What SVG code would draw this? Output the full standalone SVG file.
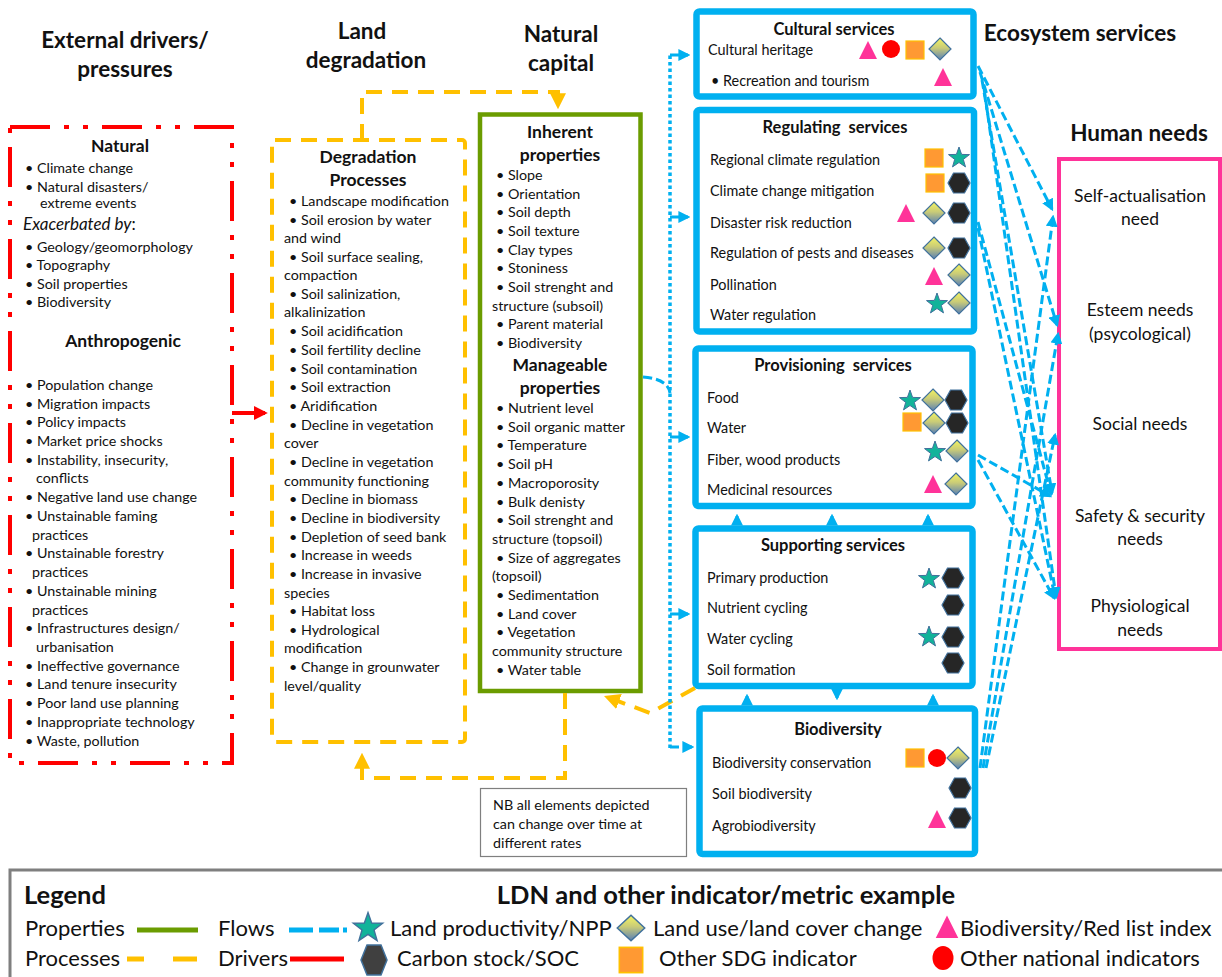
<svg xmlns="http://www.w3.org/2000/svg" xmlns:xlink="http://www.w3.org/1999/xlink" width="1222" height="977" viewBox="0 0 1222 977">
<style>
text{font-family:Lato,"Liberation Sans",sans-serif;fill:#111}
.h{font-size:22.5px;font-weight:bold;text-anchor:middle}
.tb{font-size:17.5px;font-weight:bold;text-anchor:middle}
.l{font-size:14.3px}
.s{font-size:14.4px}
.st{font-size:16.5px;font-weight:bold;text-anchor:middle;white-space:pre}
.hn{font-size:17.5px;text-anchor:middle}
.lg{font-size:22px}
.lgb{font-size:25.5px;font-weight:bold}
.blue{fill:none;stroke:#00B0F0;stroke-width:3;stroke-dasharray:9 4}
.yel{fill:none;stroke:#FFC000;stroke-width:4;stroke-dasharray:16 10}
.svc{fill:#fff;stroke:#00B0F0;stroke-width:6.5}
</style>
<defs>
<linearGradient id="dg" x1="0" y1="0" x2="0" y2="1">
<stop offset="0" stop-color="#F4F460"/><stop offset="0.45" stop-color="#C9CB78"/><stop offset="1" stop-color="#5A80B4"/>
</linearGradient>
<polygon id="star" points="0,-11 2.6,-3.6 10.5,-3.4 4.3,1.4 6.5,8.9 0,4.5 -6.5,8.9 -4.3,1.4 -10.5,-3.4 -2.6,-3.6" fill="#12B39A" stroke="#41719C" stroke-width="1"/>
<polygon id="hex" points="-11,0 -5.5,-10 5.5,-10 11,0 5.5,10 -5.5,10" fill="#262626" stroke="#41719C" stroke-width="1.2"/>
<polygon id="dia" points="0,-11 11,0 0,11 -11,0" fill="url(#dg)" stroke="#41719C" stroke-width="1.2"/>
<polygon id="tri" points="0,-10 9,8 -9,8" fill="#FF3399"/>
<rect id="sq" x="-9" y="-9" width="18" height="18" fill="#FF9933" stroke="#FFC000" stroke-width="1.2"/>
<circle id="cir" r="9" fill="#FF0000"/>
<marker id="ab" viewBox="0 0 10 10" refX="8" refY="5" markerWidth="4" markerHeight="4" orient="auto" markerUnits="strokeWidth"><path d="M0,0 L10,5 L0,10 z" fill="#00B0F0"/></marker>
<marker id="ay" viewBox="0 0 10 10" refX="8" refY="5" markerWidth="4" markerHeight="4" orient="auto" markerUnits="strokeWidth"><path d="M0,0 L10,5 L0,10 z" fill="#FFC000"/></marker>
<marker id="ar" viewBox="0 0 10 10" refX="8" refY="5" markerWidth="3.5" markerHeight="3.5" orient="auto" markerUnits="strokeWidth"><path d="M0,0 L10,5 L0,10 z" fill="#FF0000"/></marker>
</defs>
<rect width="1222" height="977" fill="#fff"/>

<!-- headers -->
<g id="headers">
<text class="h" x="125" y="48">External drivers/</text>
<text class="h" x="125" y="77">pressures</text>
<text class="h" x="362" y="39">Land</text>
<text class="h" x="366" y="68">degradation</text>
<text class="h" x="561" y="42">Natural</text>
<text class="h" x="561" y="71">capital</text>
<text class="h" x="1080" y="41">Ecosystem services</text>
<text class="h" x="1139" y="141">Human needs</text>
</g>

<!-- drivers -->
<g id="drivers">
<rect x="10" y="127" width="222" height="636" fill="none" stroke="#FF0000" stroke-width="4" stroke-dasharray="40 14 5 14 5 14"/>
<text class="tb" x="120" y="152">Natural</text>
<text class="l" x="25" y="173">• Climate change</text>
<text class="l" x="25" y="192">•  Natural disasters/</text>
<text class="l" x="40" y="208">extreme events</text>
<text x="23" y="230" style="font-size:17px;font-style:italic">Exacerbated by<tspan font-style="normal">:</tspan></text>
<text class="l" x="25" y="252">•  Geology/geomorphology</text>
<text class="l" x="25" y="270">• Topography</text>
<text class="l" x="25" y="289">• Soil properties</text>
<text class="l" x="25" y="307">• Biodiversity</text>
<text class="tb" x="123" y="347">Anthropogenic</text>
<text class="l" x="25" y="390">•  Population change</text>
<text class="l" x="25" y="409">• Migration impacts</text>
<text class="l" x="25" y="427">• Policy impacts</text>
<text class="l" x="25" y="446">• Market price shocks</text>
<text class="l" x="25" y="465">• Instability, insecurity,</text>
<text class="l" x="36" y="483">conflicts</text>
<text class="l" x="25" y="502">• Negative land use change</text>
<text class="l" x="25" y="521">• Unstainable faming</text>
<text class="l" x="32" y="540">practices</text>
<text class="l" x="25" y="558">• Unstainable forestry</text>
<text class="l" x="32" y="577">practices</text>
<text class="l" x="25" y="596">• Unstainable mining</text>
<text class="l" x="32" y="615">practices</text>
<text class="l" x="25" y="633">• Infrastructures design/</text>
<text class="l" x="36" y="652">urbanisation</text>
<text class="l" x="25" y="671">• Ineffective governance</text>
<text class="l" x="25" y="689">• Land tenure insecurity</text>
<text class="l" x="25" y="708">• Poor land use planning</text>
<text class="l" x="25" y="727">• Inappropriate technology</text>
<text class="l" x="25" y="746">• Waste, pollution</text>
</g>

<!-- degradation -->
<g id="degradation">
<rect x="272" y="140" width="193" height="602" rx="3" fill="none" stroke="#FFC000" stroke-width="4" stroke-dasharray="16 10"/>
<text class="tb" x="368" y="163">Degradation</text>
<text class="tb" x="368" y="186">Processes</text>
<text class="l" x="289" y="206">• Landscape modification</text>
<text class="l" x="289" y="225">•  Soil erosion by water</text>
<text class="l" x="284" y="243">and wind</text>
<text class="l" x="289" y="262">•  Soil surface sealing,</text>
<text class="l" x="284" y="280">compaction</text>
<text class="l" x="289" y="299">• Soil salinization,</text>
<text class="l" x="284" y="317">alkalinization</text>
<text class="l" x="289" y="336">• Soil acidification</text>
<text class="l" x="289" y="355">• Soil fertility decline</text>
<text class="l" x="289" y="374">•  Soil contamination</text>
<text class="l" x="289" y="392">• Soil extraction</text>
<text class="l" x="289" y="411">• Aridification</text>
<text class="l" x="289" y="430">• Decline in vegetation</text>
<text class="l" x="284" y="448">cover</text>
<text class="l" x="289" y="467">• Decline in vegetation</text>
<text class="l" x="284" y="486">community functioning</text>
<text class="l" x="289" y="504">• Decline in biomass</text>
<text class="l" x="289" y="523">• Decline in biodiversity</text>
<text class="l" x="289" y="542">• Depletion of seed bank</text>
<text class="l" x="289" y="560">• Increase in weeds</text>
<text class="l" x="289" y="579">• Increase in invasive</text>
<text class="l" x="284" y="598">species</text>
<text class="l" x="289" y="616">• Habitat loss</text>
<text class="l" x="289" y="635">• Hydrological</text>
<text class="l" x="284" y="653">modification</text>
<text class="l" x="289" y="672">• Change in grounwater</text>
<text class="l" x="284" y="691">level/quality</text>
</g>

<!-- natural capital -->
<g id="natural-capital">
<rect x="480" y="114.5" width="160.5" height="576.5" fill="#fff" stroke="#6B9C00" stroke-width="4.5"/>
<text class="tb" x="560" y="138">Inherent</text>
<text class="tb" x="560" y="161">properties</text>
<text class="l" x="496" y="180">• Slope</text>
<text class="l" x="496" y="199">•  Orientation</text>
<text class="l" x="496" y="217">•  Soil depth</text>
<text class="l" x="496" y="236">• Soil texture</text>
<text class="l" x="496" y="255">• Clay types</text>
<text class="l" x="496" y="273">• Stoniness</text>
<text class="l" x="496" y="292">•  Soil strenght and</text>
<text class="l" x="492" y="311">structure (subsoil)</text>
<text class="l" x="496" y="329">• Parent material</text>
<text class="l" x="496" y="348">• Biodiversity</text>
<text class="tb" x="560" y="371">Manageable</text>
<text class="tb" x="560" y="394">properties</text>
<text class="l" x="496" y="413">• Nutrient level</text>
<text class="l" x="496" y="432">• Soil organic matter</text>
<text class="l" x="496" y="450">• Temperature</text>
<text class="l" x="496" y="469">• Soil pH</text>
<text class="l" x="496" y="488">• Macroporosity</text>
<text class="l" x="496" y="507">• Bulk denisty</text>
<text class="l" x="496" y="525">• Soil strenght and</text>
<text class="l" x="492" y="544">structure (topsoil)</text>
<text class="l" x="496" y="563">• Size of aggregates</text>
<text class="l" x="492" y="581">(topsoil)</text>
<text class="l" x="496" y="600">• Sedimentation</text>
<text class="l" x="496" y="619">• Land cover</text>
<text class="l" x="496" y="637">• Vegetation</text>
<text class="l" x="492" y="656">community structure</text>
<text class="l" x="496" y="675">• Water table</text>
</g>

<!-- note -->
<g id="note">
<rect x="480.5" y="788.5" width="206" height="68" fill="#fff" stroke="#7F7F7F" stroke-width="1.2"/>
<text class="l" x="493" y="810">NB all elements depicted</text>
<text class="l" x="493" y="829">can change over time at</text>
<text class="l" x="493" y="848">different rates</text>
</g>

<!-- cultural -->
<g id="cultural">
<rect class="svc" x="696.5" y="11.5" width="277" height="85" rx="3"/>
<text class="st" x="834" y="35">Cultural services</text>
<text class="s" x="708" y="55">Cultural heritage</text>
<text class="s" x="711" y="86">• Recreation and tourism</text>
<use href="#tri" x="868" y="51"/><use href="#cir" x="891" y="49"/><use href="#sq" x="915" y="50"/><use href="#dia" x="940" y="49"/>
<use href="#tri" x="943" y="78"/>
</g>

<!-- regulating -->
<g id="regulating">
<rect class="svc" x="696.5" y="110" width="277.5" height="221.5" rx="3"/>
<text class="st" x="835" y="133">Regulating  services</text>
<text class="s" x="710" y="165">Regional climate regulation</text>
<text class="s" x="710" y="196">Climate change mitigation</text>
<text class="s" x="710" y="228">Disaster risk reduction</text>
<text class="s" x="710" y="258">Regulation of pests and diseases</text>
<text class="s" x="710" y="290">Pollination</text>
<text class="s" x="710" y="320">Water regulation</text>
<use href="#sq" x="934" y="158"/><use href="#star" x="959" y="158"/>
<use href="#sq" x="935" y="183"/><use href="#hex" x="959" y="183"/>
<use href="#tri" x="906" y="214"/><use href="#dia" x="934" y="213"/><use href="#hex" x="959" y="213"/>
<use href="#dia" x="934" y="248"/><use href="#hex" x="959" y="248"/>
<use href="#tri" x="934" y="277"/><use href="#dia" x="959" y="275"/>
<use href="#star" x="937" y="304"/><use href="#dia" x="959" y="303"/>
</g>

<!-- provisioning -->
<g id="provisioning">
<rect class="svc" x="695.5" y="348.5" width="277" height="157.5" rx="3"/>
<text class="st" x="833" y="371">Provisioning  services</text>
<text class="s" x="707" y="403">Food</text>
<text class="s" x="707" y="433">Water</text>
<text class="s" x="707" y="465">Fiber, wood products</text>
<text class="s" x="707" y="495">Medicinal resources</text>
<use href="#star" x="910" y="401"/><use href="#dia" x="933" y="400"/><use href="#hex" x="956" y="400"/>
<use href="#sq" x="912" y="422"/><use href="#dia" x="934" y="423"/><use href="#hex" x="957" y="423"/>
<use href="#star" x="935" y="452"/><use href="#dia" x="957" y="451"/>
<use href="#tri" x="933" y="485"/><use href="#dia" x="956" y="484"/>
</g>

<!-- supporting -->
<g id="supporting">
<rect class="svc" x="695.5" y="528.5" width="277" height="157.5" rx="3"/>
<text class="st" x="833" y="551">Supporting services</text>
<text class="s" x="707" y="583">Primary production</text>
<text class="s" x="707" y="613">Nutrient cycling</text>
<text class="s" x="707" y="644">Water cycling</text>
<text class="s" x="707" y="675">Soil formation</text>
<use href="#star" x="929" y="579"/><use href="#hex" x="953" y="578"/>
<use href="#hex" x="953" y="605"/>
<use href="#star" x="929" y="637"/><use href="#hex" x="953" y="637"/>
<use href="#hex" x="953" y="663"/>
</g>

<!-- biodiversity -->
<g id="biodiversity">
<rect class="svc" x="699.5" y="708.5" width="275.5" height="145.5" rx="3"/>
<text class="st" x="838" y="735">Biodiversity</text>
<text class="s" x="712" y="768">Biodiversity conservation</text>
<text class="s" x="712" y="799">Soil biodiversity</text>
<text class="s" x="712" y="831">Agrobiodiversity</text>
<use href="#sq" x="915" y="758"/><use href="#cir" x="937" y="758"/><use href="#dia" x="958" y="758"/>
<use href="#hex" x="960" y="788"/>
<use href="#tri" x="937" y="820"/><use href="#hex" x="960" y="818"/>
</g>

<!-- human needs -->
<g id="human-needs">
<rect x="1059" y="159" width="161" height="490" fill="#fff" stroke="#FF3399" stroke-width="4"/>
<text class="hn" x="1140" y="202">Self-actualisation</text>
<text class="hn" x="1140" y="225">need</text>
<text class="hn" x="1140" y="316">Esteem needs</text>
<text class="hn" x="1140" y="340">(psycological)</text>
<text class="hn" x="1140" y="430">Social needs</text>
<text class="hn" x="1140" y="522">Safety &amp; security</text>
<text class="hn" x="1140" y="545">needs</text>
<text class="hn" x="1140" y="612">Physiological</text>
<text class="hn" x="1140" y="636">needs</text>
</g>

<!-- connectors -->
<g id="connectors">
<path d="M232,413 L265,413" fill="none" stroke="#FF0000" stroke-width="4" marker-end="url(#ar)"/>
<path class="yel" d="M362,140 L362,92 L558,92 L558,106" marker-end="url(#ay)"/>
<path class="yel" d="M565,693 L565,778 L362,778 L362,756" marker-end="url(#ay)"/>
<path class="yel" d="M695,688 L650,713 L607,697" marker-end="url(#ay)"/>
<path d="M670,748 L670,55" fill="none" stroke="#00B0F0" stroke-width="3.5" stroke-dasharray="3.5 3"/>
<path class="blue" d="M670,55 L688,55" marker-end="url(#ab)"/>
<path class="blue" d="M670,217 L688,217" marker-end="url(#ab)"/>
<path class="blue" d="M670,437 L688,437" marker-end="url(#ab)"/>
<path class="blue" d="M670,614 L688,614" marker-end="url(#ab)"/>
<path class="blue" d="M670,747 L692,747" marker-end="url(#ab)"/>
<path class="blue" d="M643,377 Q668,379 670,393"/>
<path d="M737,525 L737,516" stroke="#00B0F0" stroke-width="3" marker-end="url(#ab)"/>
<path d="M832,525 L832,516" stroke="#00B0F0" stroke-width="3" marker-end="url(#ab)"/>
<path d="M928,525 L928,516" stroke="#00B0F0" stroke-width="3" marker-end="url(#ab)"/>
<path d="M747,705 L747,696" stroke="#00B0F0" stroke-width="3" marker-end="url(#ab)"/>
<path d="M837,691 L837,698" stroke="#00B0F0" stroke-width="3" marker-end="url(#ab)"/>
<path d="M933,705 L933,696" stroke="#00B0F0" stroke-width="3" marker-end="url(#ab)"/>
<path class="blue" d="M978,66 L1052,209" marker-end="url(#ab)"/>
<path class="blue" d="M980,72 L1057,325" marker-end="url(#ab)"/>
<path class="blue" d="M982,80 L1052,493" marker-end="url(#ab)"/>
<path class="blue" d="M984,88 L1056,597" marker-end="url(#ab)"/>
<path class="blue" d="M978,222 L1051,494" marker-end="url(#ab)"/>
<path class="blue" d="M978,228 L1055,597" marker-end="url(#ab)"/>
<path class="blue" d="M978,455 L1050,496" marker-end="url(#ab)"/>
<path class="blue" d="M978,460 L1054,598" marker-end="url(#ab)"/>
<path class="blue" d="M980,768 L1053,217" marker-end="url(#ab)"/>
<path class="blue" d="M983,768 L1058,334" marker-end="url(#ab)"/>
<path class="blue" d="M986,768 L1055,435" marker-end="url(#ab)"/>
</g>

<!-- legend -->
<g id="legend">
<rect x="10" y="870" width="1222" height="120" fill="none" stroke="#7F7F7F" stroke-width="3"/>
<text class="lgb" x="24" y="904">Legend</text>
<text class="lgb" x="726" y="904" text-anchor="middle">LDN and other indicator/metric example</text>
<text class="lg" x="25" y="936">Properties</text>
<line x1="137" y1="930" x2="198" y2="930" stroke="#6B9C00" stroke-width="5"/>
<text class="lg" x="218" y="936">Flows</text>
<line x1="289" y1="930" x2="347" y2="930" stroke="#00B0F0" stroke-width="5" stroke-dasharray="24 6 20 4"/>
<use href="#star" transform="translate(368,928) scale(1.4)"/>
<text class="lg" x="390" y="936">Land productivity/NPP</text>
<use href="#dia" transform="translate(631,928) scale(1.25 1.15)"/>
<text class="lg" x="653" y="936">Land use/land cover change</text>
<use href="#tri" transform="translate(947,928) scale(1.25)"/>
<text class="lg" x="960" y="936">Biodiversity/Red list index</text>
<text class="lg" x="25" y="966">Processes</text>
<line x1="127" y1="959" x2="144" y2="959" stroke="#FFC000" stroke-width="5"/>
<line x1="173" y1="959" x2="197" y2="959" stroke="#FFC000" stroke-width="5"/>
<text class="lg" x="218" y="966">Drivers</text>
<line x1="290" y1="959" x2="344" y2="959" stroke="#FF0000" stroke-width="5"/>
<polygon points="361,960 367,945 381,945 387,960 381,975 367,975" fill="#404040" stroke="#41719C" stroke-width="1.5"/>
<text class="lg" x="397" y="966">Carbon stock/SOC</text>
<use href="#sq" transform="translate(631,960) scale(1.3 1.4)"/>
<text class="lg" x="659" y="966">Other SDG indicator</text>
<ellipse cx="943" cy="958" rx="10.5" ry="12" fill="#FF0000"/>
<text class="lg" x="960" y="966">Other national indicators</text>
</g>
</svg>
